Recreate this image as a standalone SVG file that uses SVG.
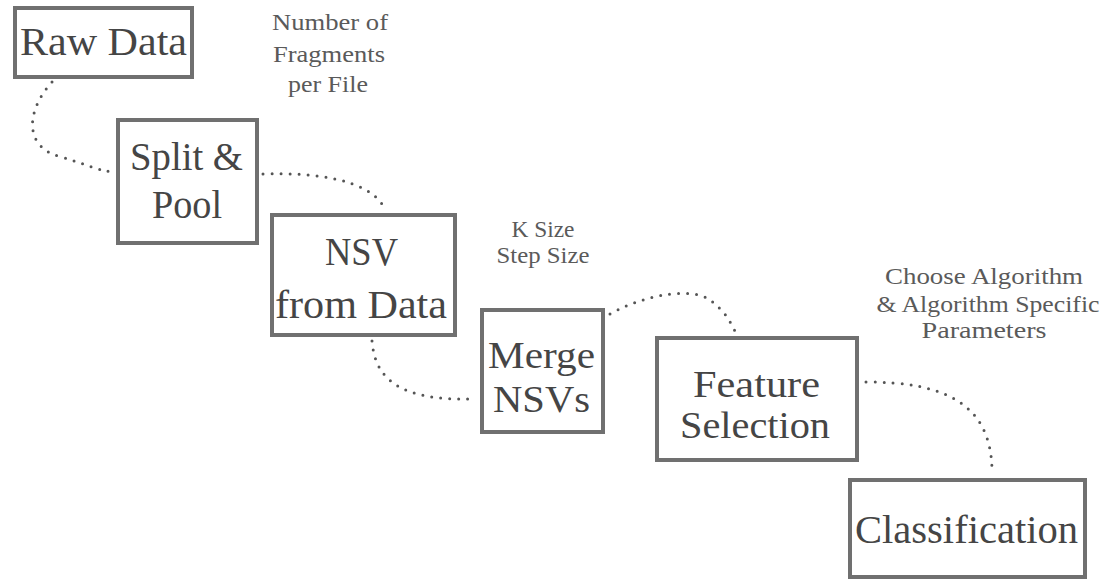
<svg xmlns="http://www.w3.org/2000/svg" width="1108" height="579" viewBox="0 0 1108 579">
  <style>
    .box { fill: #ffffff; stroke: #707070; stroke-width: 4; }
    .nt { font-family: 'Liberation Serif', 'DejaVu Serif', 'Times New Roman', serif; font-size: 40px; fill: #454545; text-anchor: middle; }
    .ns { font-size: 37px; }
    .lb { font-family: 'Liberation Serif', 'DejaVu Serif', 'Times New Roman', serif; font-size: 23px; fill: #5a5a5a; text-anchor: middle; }
    .dot { fill: none; stroke: #555555; stroke-width: 3; stroke-linecap: round; stroke-dasharray: 0 9; }
  </style>
  <rect width="1108" height="579" fill="#ffffff"/>
  <g id="connectors">
    <path class="dot" d="M52,82 C28,108 22,145 58,156 S98,170 112,172"/>
    <path class="dot" d="M263,174 C320,172 366,181 382,204"/>
    <path class="dot" d="M372,341 C375,378 398,401 474,399"/>
    <path class="dot" d="M610,314 C650,292 694,288 710,300 S730,322 735,331"/>
    <path class="dot" d="M866,382 C942,382 992,402 992,472"/>
  </g>
  <g id="node-raw-data">
    <rect class="box" x="15" y="8" width="177" height="69"/>
    <text class="nt" x="103.5" y="55" textLength="167" lengthAdjust="spacingAndGlyphs">Raw Data</text>
  </g>
  <g id="node-split-pool">
    <rect class="box" x="118" y="120" width="139" height="123"/>
    <text class="nt" x="186.5" y="170" textLength="113" lengthAdjust="spacingAndGlyphs">Split &amp;</text>
    <text class="nt" x="187" y="218" textLength="70" lengthAdjust="spacingAndGlyphs">Pool</text>
  </g>
  <g id="node-nsv">
    <rect class="box" x="272" y="215" width="183" height="120"/>
    <text class="nt" x="361.5" y="265" textLength="73" lengthAdjust="spacingAndGlyphs">NSV</text>
    <text class="nt" x="361" y="318" textLength="172" lengthAdjust="spacingAndGlyphs">from Data</text>
  </g>
  <g id="node-merge">
    <rect class="box" x="482" y="310" width="121" height="122"/>
    <text class="nt ns" x="541.5" y="368" textLength="107" lengthAdjust="spacingAndGlyphs">Merge</text>
    <text class="nt ns" x="541.5" y="412" textLength="97" lengthAdjust="spacingAndGlyphs">NSVs</text>
  </g>
  <g id="node-feature">
    <rect class="box" x="657" y="338" width="200" height="122"/>
    <text class="nt ns" x="756.5" y="397" textLength="127" lengthAdjust="spacingAndGlyphs">Feature</text>
    <text class="nt ns" x="755" y="438" textLength="150" lengthAdjust="spacingAndGlyphs">Selection</text>
  </g>
  <g id="node-classification">
    <rect class="box" x="850" y="480" width="235" height="97"/>
    <text class="nt" x="966.5" y="543" textLength="223" lengthAdjust="spacingAndGlyphs">Classification</text>
  </g>
  <g id="labels">
    <text class="lb" x="330" y="30" textLength="116" lengthAdjust="spacingAndGlyphs">Number of</text>
    <text class="lb" x="329" y="62" textLength="112" lengthAdjust="spacingAndGlyphs">Fragments</text>
    <text class="lb" x="328" y="92" textLength="80" lengthAdjust="spacingAndGlyphs">per File</text>
    <text class="lb" x="543" y="237" textLength="63" lengthAdjust="spacingAndGlyphs">K Size</text>
    <text class="lb" x="543" y="263" textLength="93" lengthAdjust="spacingAndGlyphs">Step Size</text>
    <text class="lb" x="984" y="284" textLength="198" lengthAdjust="spacingAndGlyphs">Choose Algorithm</text>
    <text class="lb" x="988" y="312" textLength="223" lengthAdjust="spacingAndGlyphs">&amp; Algorithm Specific</text>
    <text class="lb" x="984" y="338" textLength="125" lengthAdjust="spacingAndGlyphs">Parameters</text>
  </g>
</svg>
